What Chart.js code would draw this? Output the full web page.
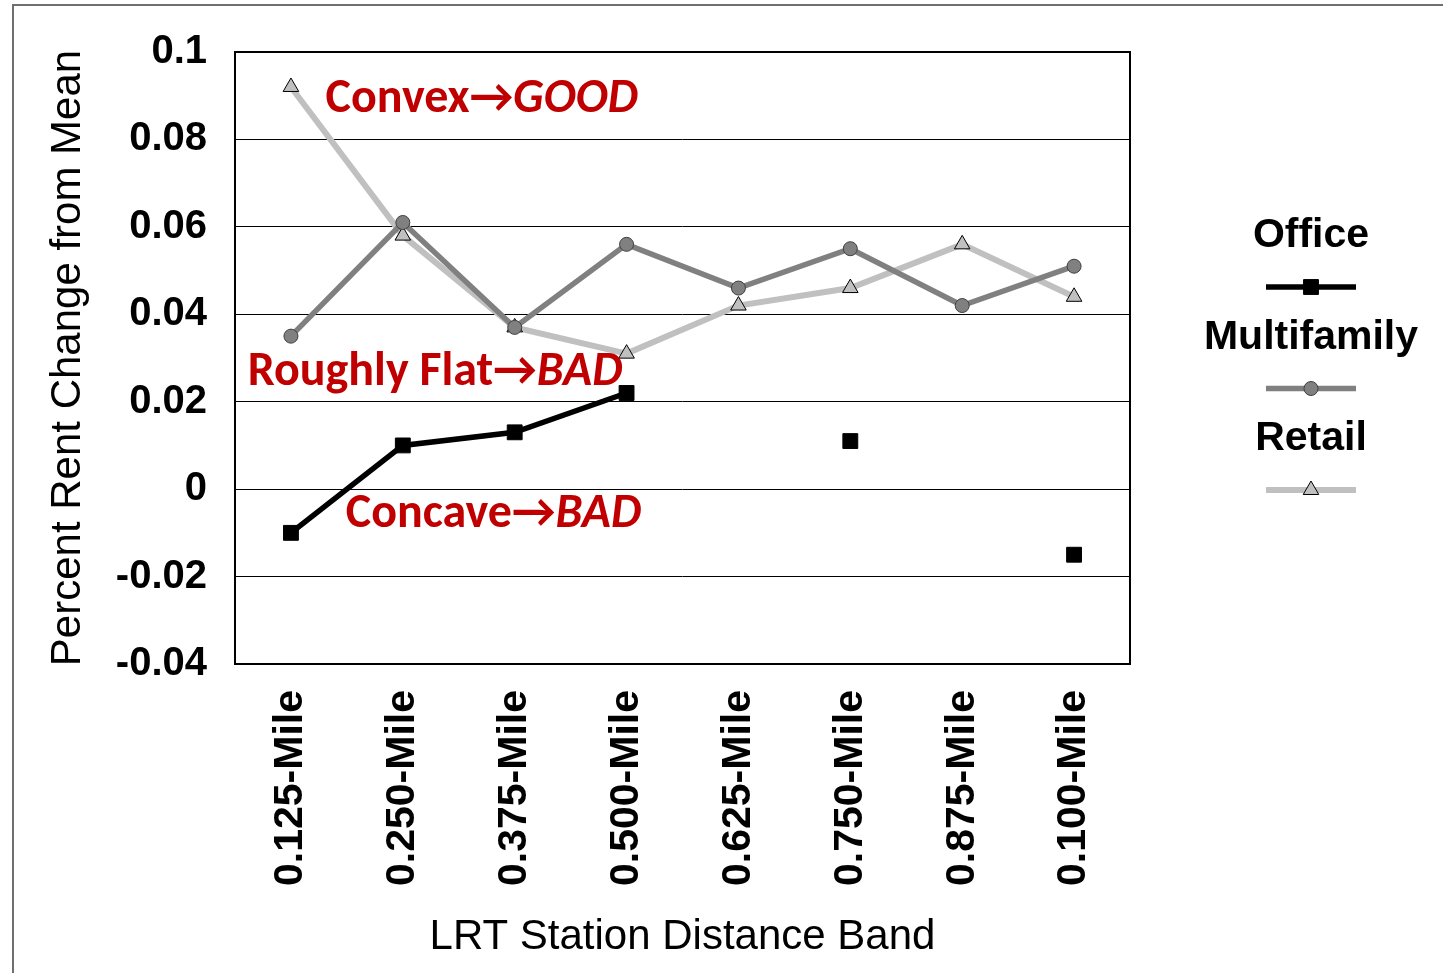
<!DOCTYPE html>
<html>
<head>
<meta charset="utf-8">
<script src="https://cdn.jsdelivr.net/npm/chart.js@4.4.1/dist/chart.umd.min.js"></script>
<style>
  html, body { margin: 0; padding: 0; background: #fff; }
</style>
</head>
<body>
<canvas id="chart" width="1443" height="973"></canvas>
<script>
// categories and series
var categories = ['0.125-Mile', '0.250-Mile', '0.375-Mile', '0.500-Mile', '0.625-Mile', '0.750-Mile', '0.875-Mile', '0.100-Mile'];
var officeValues = [-0.010, 0.010, 0.013, 0.022, null, 0.011, null, -0.015];
var multifamilyValues = [0.035, 0.061, 0.037, 0.056, 0.046, 0.055, 0.042, 0.051];
var retailValues = [0.092, 0.058, 0.037, 0.031, 0.042, 0.046, 0.056, 0.044];
var yMin = -0.04, yMax = 0.1, yStep = 0.02;

// red notes written on the plot (x = category index, y = value)
var notes = [
    { x: 0.31, y: 0.0891, parts: [['Convex', 'bold'], ['\u2192', 'bold'], ['GOOD', 'italic bold']] },
    { x: -0.385, y: 0.0266, parts: [['Roughly Flat', 'bold'], ['\u2192', 'bold'], ['BAD', 'italic bold']] },
    { x: 0.49, y: -0.0059, parts: [['Concave', 'bold'], ['\u2192', 'bold'], ['BAD', 'italic bold']] }
];

var FONT = "'Liberation Sans', Arial, sans-serif";
var NOTE_FONT = "Carlito, Lato, 'Open Sans', sans-serif";

// outer frame of the picture
var framePlugin = {
    id: 'frame',
    beforeDraw: function(chart) {
        var ctx = chart.ctx;
        ctx.save();
        ctx.fillStyle = '#fff';
        ctx.fillRect(0, 0, chart.width, chart.height);
        ctx.strokeStyle = '#6f6f6f';
        ctx.lineWidth = 2;
        ctx.strokeRect(13, 5, 1500, 1100);
        ctx.restore();
    }
};

// box round the plot area
var boxPlugin = {
    id: 'plotBox',
    beforeDatasetsDraw: function(chart) {
        var a = chart.chartArea, ctx = chart.ctx;
        ctx.save();
        ctx.strokeStyle = '#000';
        ctx.lineWidth = 2;
        ctx.strokeRect(a.left, a.top, a.right - a.left, a.bottom - a.top);
        ctx.restore();
    }
};

function drawMarker(ctx, style, x, y, r, fill, stroke) {
    ctx.beginPath();
    if (style === 'rect') {
        var s = r * Math.SQRT1_2;
        ctx.rect(x - s, y - s, 2 * s, 2 * s);
    } else if (style === 'circle') {
        ctx.arc(x, y, r, 0, Math.PI * 2);
    } else {
        ctx.moveTo(x, y - r);
        ctx.lineTo(x + r * 0.866, y + r * 0.5);
        ctx.lineTo(x - r * 0.866, y + r * 0.5);
        ctx.closePath();
    }
    ctx.fillStyle = fill;
    ctx.fill();
    ctx.lineWidth = 1;
    ctx.strokeStyle = stroke;
    ctx.stroke();
}

// legend stacked on the right: name above, sample below
var legendPlugin = {
    id: 'sideLegend',
    afterDraw: function(chart) {
        var ctx = chart.ctx;
        var cx = 1311;
        ctx.save();
        chart.data.datasets.forEach(function(ds, i) {
            var ty = 236 + i * 101.5;
            var ly = 287 + i * 101.5;
            ctx.font = 'bold 41px ' + FONT;
            ctx.fillStyle = '#000';
            ctx.textAlign = 'center';
            ctx.textBaseline = 'middle';
            ctx.fillText(ds.label, cx, ty);
            ctx.beginPath();
            ctx.moveTo(cx - 45, ly);
            ctx.lineTo(cx + 45, ly);
            ctx.strokeStyle = ds.borderColor;
            ctx.lineWidth = ds.borderWidth;
            ctx.stroke();
            drawMarker(ctx, ds.pointStyle, cx, ly, ds.pointRadius, ds.pointBackgroundColor, ds.pointBorderColor);
        });
        ctx.restore();
    }
};

// red annotations
var notesPlugin = {
    id: 'notes',
    afterDatasetsDraw: function(chart) {
        var ctx = chart.ctx;
        var xs = chart.scales.x, ys = chart.scales.y;
        ctx.save();
        ctx.fillStyle = '#C00000';
        ctx.textAlign = 'left';
        ctx.textBaseline = 'middle';
        notes.forEach(function(n) {
            var x = xs.getPixelForValue(n.x);
            var y = ys.getPixelForValue(n.y);
            n.parts.forEach(function(p) {
                ctx.font = p[1] + ' 48px ' + NOTE_FONT;
                ctx.fillText(p[0], x, y);
                x += ctx.measureText(p[0]).width;
            });
        });
        ctx.restore();
    }
};

var ctx = document.getElementById('chart').getContext('2d');
var chart = new Chart(ctx, {
    type: 'line',
    data: {
        labels: categories,
        datasets: [{
            label: 'Office',
            data: officeValues,
            borderColor: '#000000',
            backgroundColor: '#000000',
            borderWidth: 5.5,
            pointStyle: 'rect',
            pointRadius: 10.5,
            pointBackgroundColor: '#000000',
            pointBorderColor: '#000000',
            pointBorderWidth: 1,
            spanGaps: false
        }, {
            label: 'Multifamily',
            data: multifamilyValues,
            borderColor: '#808080',
            backgroundColor: '#808080',
            borderWidth: 5.5,
            pointStyle: 'circle',
            pointRadius: 7,
            pointBackgroundColor: '#808080',
            pointBorderColor: '#404040',
            pointBorderWidth: 1
        }, {
            label: 'Retail',
            data: retailValues,
            borderColor: '#C0C0C0',
            backgroundColor: '#C0C0C0',
            borderWidth: 6,
            pointStyle: 'triangle',
            pointRadius: 9,
            pointBackgroundColor: '#C0C0C0',
            pointBorderColor: '#000000',
            pointBorderWidth: 1
        }]
    },
    options: {
        responsive: false,
        animation: false,
        layout: {
            padding: { top: 50, right: 313, bottom: 0, left: 0 }
        },
        plugins: {
            legend: { display: false },
            tooltip: { enabled: false }
        },
        scales: {
            x: {
                offset: true,
                grid: { display: false, drawTicks: false },
                border: { display: false },
                ticks: {
                    color: '#000',
                    font: { family: FONT, size: 41, weight: 'bold' },
                    minRotation: 90,
                    maxRotation: 90,
                    padding: 26,
                    autoSkip: false
                },
                title: {
                    display: true,
                    text: 'LRT Station Distance Band',
                    color: '#000',
                    font: { family: FONT, size: 42, lineHeight: 1 },
                    padding: { top: 0, bottom: 15 }
                },
                afterFit: function(scale) { scale.height = 309; }
            },
            y: {
                min: yMin,
                max: yMax,
                grid: { color: '#000', lineWidth: 1, drawTicks: false },
                border: { display: false },
                ticks: {
                    stepSize: yStep,
                    color: '#000',
                    font: { family: FONT, size: 40, weight: 'bold' },
                    padding: 28,
                    callback: function(v) { return String(Number(v.toFixed(2))); }
                },
                title: {
                    display: true,
                    text: 'Percent Rent Change from Mean',
                    color: '#000',
                    font: { family: FONT, size: 42, lineHeight: 1 },
                    padding: { top: 47, bottom: 0 }
                },
                afterFit: function(scale) { scale.width = 235; }
            }
        }
    },
    plugins: [framePlugin, boxPlugin, notesPlugin, legendPlugin]
});
</script>
</body>
</html>
